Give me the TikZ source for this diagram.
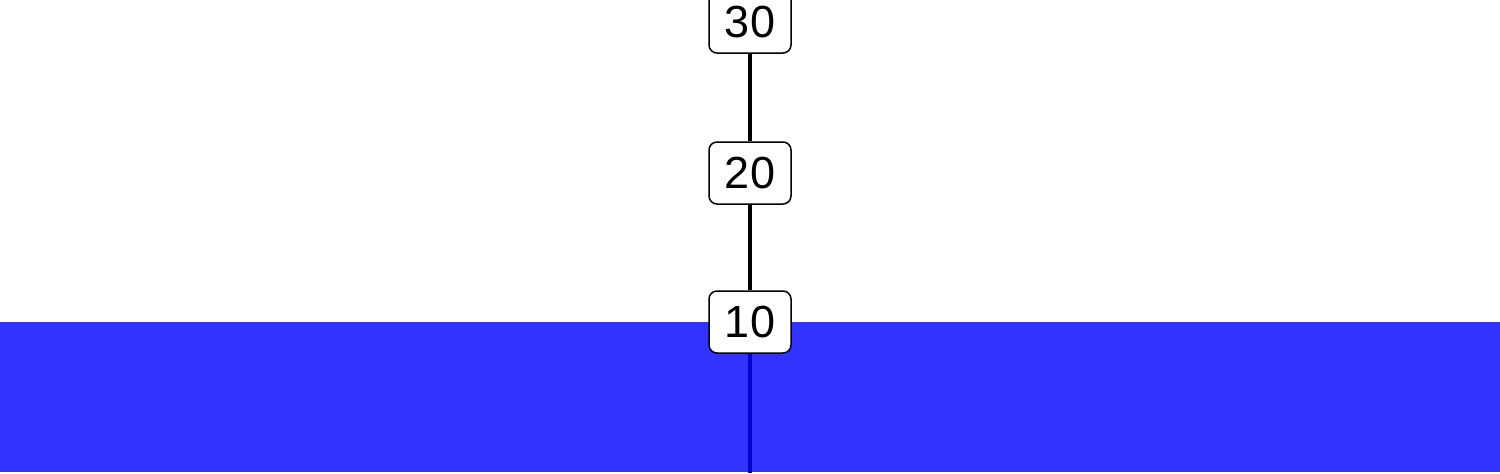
\documentclass[tikz,border=0pt]{standalone}
\usepackage{fontspec}
\setmainfont{Liberation Sans}
\definecolor{seablue}{HTML}{3333FF}
\definecolor{deepline}{HTML}{0000CC}
\begin{document}
\begin{tikzpicture}[x=0.5pt,y=-0.5pt,
  depthbox/.style={draw=black, line width=0.75pt, fill=white, rounded corners=4pt,
    minimum width=41pt, minimum height=31pt, inner sep=0pt, font=\fontsize{22.5}{26}\selectfont},
  stem/.style={line width=2pt, draw=black},
  deepstem/.style={line width=2pt, draw=deepline}]
\useasboundingbox (0,0) rectangle (1500,473);
\fill[seablue] (0,322) rectangle (1500,471.5);
\coordinate (top) at (750,0);
\coordinate (bottom) at (750,473);
\node[depthbox] (n30) at (750,22) {30};
\node[depthbox] (n20) at (750,173) {20};
\node[depthbox] (n10) at (750,322) {10};
\draw[stem] (top) -- (n30);
\draw[stem] (n30) -- (n20);
\draw[stem] (n20) -- (n10);
\draw[deepstem] (n10) -- (bottom);
\end{tikzpicture}
\end{document}
